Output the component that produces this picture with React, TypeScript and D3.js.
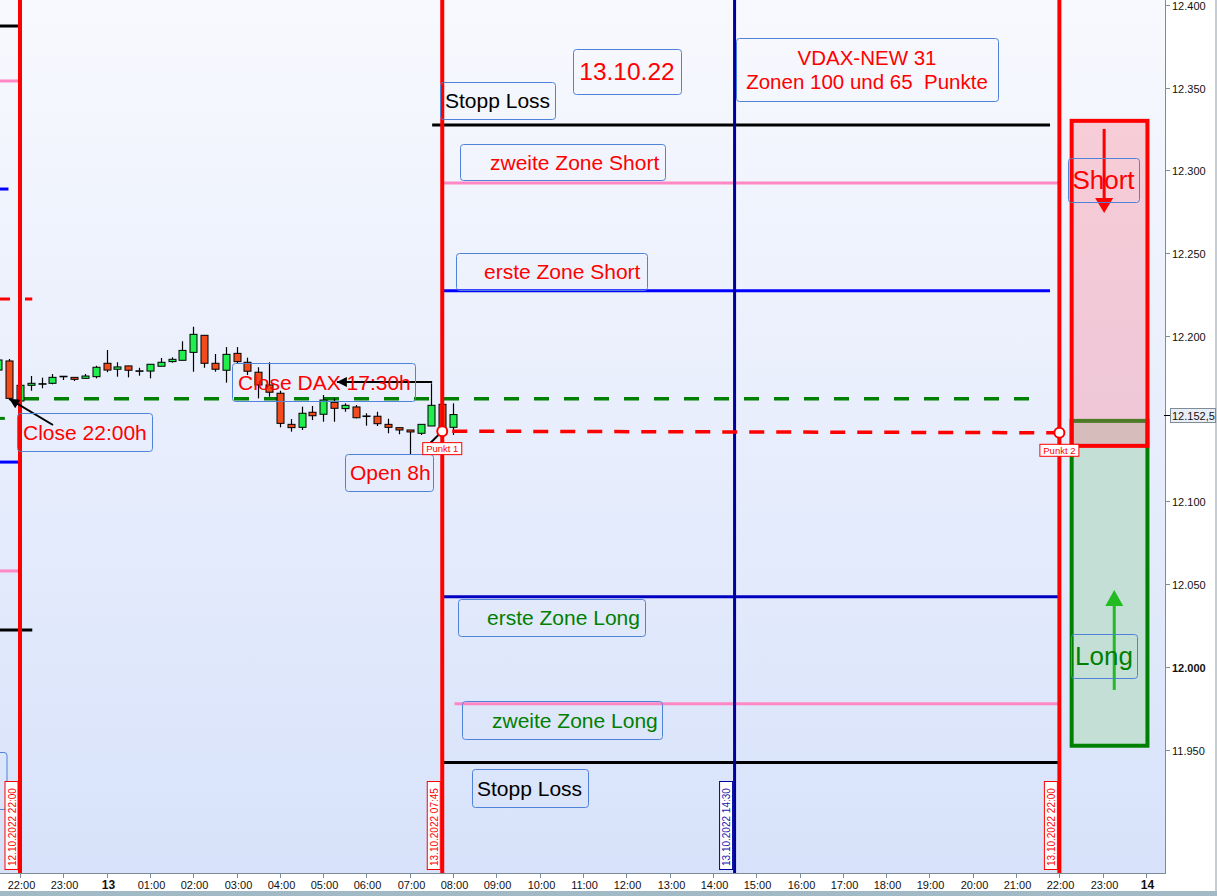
import React from "react";
import * as d3 from "d3";

// ---------- data ----------
// 15-minute DAX candles, 12.10.2022 21:30 .. 13.10.2022 08:00
const candleTimes = [
  "21:30", "21:45", "22:00", "22:15", "22:30", "22:45", "23:00", "23:15", "23:30", "23:45",
  "00:00", "00:15", "00:30", "00:45", "01:00", "01:15", "01:30", "01:45", "02:00", "02:15",
  "02:30", "02:45", "03:00", "03:15", "03:30", "03:45", "04:00", "04:15", "04:30", "04:45",
  "05:00", "05:15", "05:30", "05:45", "06:00", "06:15", "06:30", "06:45", "07:00", "07:15",
  "07:30", "07:45", "08:00",
];
const opens = [
  12179.4, 12184.9, 12160.7, 12170.2, 12171.0, 12171.4, 12175.6, 12175.0, 12174.4, 12175.4,
  12183.5, 12179.9, 12181.9, 12178.8, 12178.8, 12181.7, 12184.5, 12185.3, 12190.1, 12200.4,
  12183.5, 12179.3, 12189.5, 12184.1, 12178.1, 12170.4, 12165.4, 12146.6, 12144.8, 12153.9,
  12152.7, 12159.9, 12156.1, 12157.1, 12151.5, 12151.5, 12146.6, 12144.6, 12143.2, 12141.2,
  12145.6, 12158.7, 12144.8,
];
const highs = [
  12186.7, 12186.1, 12170.4, 12175.8, 12174.8, 12177.0, 12175.8, 12175.2, 12177.0, 12182.0,
  12191.5, 12184.1, 12182.0, 12180.8, 12183.1, 12186.7, 12187.1, 12196.8, 12205.6, 12200.6,
  12189.1, 12193.3, 12193.3, 12186.9, 12181.1, 12184.1, 12166.9, 12149.8, 12157.3, 12157.7,
  12164.3, 12162.3, 12159.3, 12158.3, 12153.3, 12154.2, 12150.0, 12144.8, 12143.2, 12146.6,
  12171.4, 12158.7, 12159.3,
];
const lows = [
  12178.2, 12162.0, 12160.7, 12166.9, 12168.4, 12170.8, 12173.4, 12172.8, 12174.3, 12174.4,
  12178.1, 12175.4, 12175.0, 12176.0, 12174.4, 12181.7, 12183.9, 12185.3, 12178.4, 12180.8,
  12178.4, 12171.8, 12183.5, 12176.4, 12162.3, 12163.3, 12144.8, 12142.2, 12143.2, 12149.2,
  12148.2, 12148.2, 12154.2, 12150.2, 12145.8, 12145.6, 12141.2, 12140.6, 12128.1, 12140.2,
  12145.6, 12142.3, 12140.2,
];
const closes = [
  12185.5, 12162.3, 12170.2, 12171.4, 12171.0, 12175.0, 12175.4, 12173.8, 12175.8, 12181.1,
  12179.4, 12181.3, 12179.3, 12178.8, 12182.9, 12184.1, 12185.9, 12191.3, 12201.0, 12183.5,
  12179.9, 12188.9, 12184.5, 12178.7, 12170.4, 12166.0, 12147.2, 12144.6, 12153.3, 12151.8,
  12161.3, 12156.3, 12158.1, 12150.6, 12151.5, 12147.0, 12144.8, 12143.2, 12142.0, 12146.6,
  12158.1, 12142.8, 12152.5,
];

const timeTickLabels = [
  "22:00", "23:00", "13", "01:00", "02:00", "03:00", "04:00", "05:00", "06:00", "07:00",
  "08:00", "09:00", "10:00", "11:00", "12:00", "13:00", "14:00", "15:00", "16:00", "17:00",
  "18:00", "19:00", "20:00", "21:00", "22:00", "23:00", "14",
];
// 12.150 sits under the last-price tag and is not labelled
const priceTicks = [11950, 12000, 12050, 12100, 12200, 12250, 12300, 12350, 12400];
const lastPrice = 12152.5;

// vertical session markers
const markerStamps = ["12.10.2022 22:00", "13.10.2022 07:45", "13.10.2022 14:30", "13.10.2022 22:00"];

// zone lines for 13.10.22
const zonePrices = [12327.5, 12292.5, 12227.3, 12042.4, 11977.8, 11942.2];
const zoneStarts = ["13.10.2022 07:31", "13.10.2022 07:45", "13.10.2022 07:45", "13.10.2022 07:45", "13.10.2022 08:02", "13.10.2022 07:45"];
const zoneEnds = ["13.10.2022 21:47", "13.10.2022 22:00", "13.10.2022 21:47", "13.10.2022 22:00", "13.10.2022 22:00", "13.10.2022 22:00"];

// zone lines of the previous day (left edge)
const prevPrices = [12387.3, 12354.1, 12288.8, 12222.3, 12150.2, 12123.8, 12058.0, 12022.3];
const prevEnds = ["12.10.2022 21:59", "12.10.2022 21:59", "12.10.2022 21:44", "12.10.2022 22:17", "12.10.2022 21:39", "12.10.2022 21:59", "12.10.2022 21:59", "12.10.2022 22:17"];

const closeLevel = 12162; // Close 22:00h
const closeLevelEnd = "13.10.2022 21:33";
const dax1730Level = 12172.2;
const daxArrowFrom = "13.10.2022 07:31";
const daxArrowTo = "13.10.2022 05:19";
const punktStamps = ["13.10.2022 07:45", "13.10.2022 22:00"];
const punktPrices = [12142.5, 12141.5];
const openWickStamp = "13.10.2022 07:15";
const openWickPrice = 12135.5;

const shortZone = [12330, 12133.6];
const longZone = [12148.7, 11952.4];
const zoneBoxFrom = "13.10.2022 22:17";
const zoneBoxTo = "14.10.2022 00:02";
const shortArrow = { stamp: "13.10.2022 23:02", from: 12325.1, to: 12274.3 };
const longArrow = { stamp: "13.10.2022 23:16", from: 11986.1, to: 12046.5 };

// ---------- helpers ----------
const parse = d3.timeParse("%d.%m.%Y %H:%M");
const base = parse("12.10.2022 22:00") as Date;
const hoursOf = (stamp: string) => ((parse(stamp) as Date).getTime() - base.getTime()) / 3600000;
const candleHours = candleTimes.map((t) => {
  const hh = +t.slice(0, 2);
  return hoursOf(`${hh >= 21 ? "12" : "13"}.10.2022 ${t}`);
});
const fmtPrice = (v: number) => {
  const s = Math.round(v).toString();
  return `${s.slice(0, s.length - 3)}.${s.slice(-3)}`;
};

const W = 1217;
const H = 896;
const PLOT_R = 1165;
const PLOT_B = 873;
const FONT = "'Liberation Sans', Arial, sans-serif";

const x = d3.scaleLinear().domain([0, 26]).range([20, 1146]);
const y = d3.scaleLinear().domain([11950, 12400]).range([749.7, 5]);

const BOX = "#4f82d9";

function TextBox(props: {
  x: number; y: number; w: number; h: number; lines: string[]; color: string;
  size: number; anchor?: "start" | "middle"; tx?: number;
}) {
  const { x: bx, y: by, w, h, lines, color, size, anchor = "start", tx = 5 } = props;
  const lh = size * 1.2;
  const startY = by + h / 2 - ((lines.length - 1) * lh) / 2 + size * 0.36;
  return (
    <g>
      <rect x={bx + 0.5} y={by + 0.5} width={w} height={h} rx={3} fill="none" stroke={BOX} strokeWidth={1} />
      {lines.map((l, i) => (
        <text
          key={i}
          x={anchor === "middle" ? bx + w / 2 : bx + tx}
          y={startY + i * lh}
          fill={color}
          fontSize={size}
          fontFamily={FONT}
          textAnchor={anchor}
          style={{ whiteSpace: "pre" }}
        >
          {l}
        </text>
      ))}
    </g>
  );
}

export default function App() {
  const markerColors = ["#ff0000", "#ff0000", "#00009c", "#ff0000"];
  const zoneColors = ["#000000", "#ff88c4", "#0000ff", "#0000c0", "#ff88c4", "#000000"];
  const prevColors = ["#000000", "#ff88c4", "#0000ff", "#ff0000", "#008000", "#0000ff", "#ff88c4", "#000000"];
  const bodyW = 7;

  const p1x = x(hoursOf(punktStamps[0]));
  const p1y = y(punktPrices[0]);
  const p2x = x(hoursOf(punktStamps[1]));
  const p2y = y(punktPrices[1]);
  const bx0 = x(hoursOf(zoneBoxFrom));
  const bx1 = x(hoursOf(zoneBoxTo));

  return (
    <svg width={W} height={H} style={{ position: "absolute", left: 0, top: 0 }} xmlns="http://www.w3.org/2000/svg">
      <defs>
        <linearGradient id="bg" x1="0" y1="0" x2="0" y2="1">
          <stop offset="0" stopColor="#f8f9fe" />
          <stop offset="1" stopColor="#d7e2fa" />
        </linearGradient>
        <marker id="ah" viewBox="0 0 10 10" refX="10" refY="5" markerWidth="12" markerHeight="10" markerUnits="userSpaceOnUse" orient="auto">
          <path d="M0,0 L10,5 L0,10 z" fill="#000" />
        </marker>
        <clipPath id="plotClip">
          <rect x={0} y={0} width={PLOT_R} height={PLOT_B} />
        </clipPath>
      </defs>

      {/* frame */}
      <rect x={0} y={0} width={W} height={H} fill="#ffffff" />
      <rect x={0} y={0} width={PLOT_R} height={PLOT_B} fill="url(#bg)" />
      <rect x={0} y={891} width={W} height={5} fill="#a2b9c6" />
      <line x1={1216} y1={0} x2={1216} y2={891} stroke="#8c9aa6" strokeWidth={1} />

      <g clipPath="url(#plotClip)">
        {/* previous-day zone marks */}
        {prevPrices.map((p, i) => (
          <line
            key={"pv" + i}
            x1={0}
            x2={x(hoursOf(prevEnds[i]))}
            y1={y(p)}
            y2={y(p)}
            stroke={prevColors[i]}
            strokeWidth={3}
            strokeDasharray={i === 3 ? "10 15" : undefined}
          />
        ))}

        {/* zone box Short / Long */}
        <rect x={bx0} y={y(longZone[0])} width={bx1 - bx0} height={y(longZone[1]) - y(longZone[0])} fill="#c4e0d6" stroke="#008000" strokeWidth={4} />
        <rect x={bx0} y={y(shortZone[0])} width={bx1 - bx0} height={y(shortZone[1]) - y(shortZone[0])} fill="rgba(255,110,130,0.3)" stroke="#ff0000" strokeWidth={4} />

        {/* zone lines */}
        {zonePrices.map((p, i) => (
          <line
            key={"z" + i}
            x1={x(hoursOf(zoneStarts[i]))}
            x2={x(hoursOf(zoneEnds[i]))}
            y1={y(p)}
            y2={y(p)}
            stroke={zoneColors[i]}
            strokeWidth={3}
          />
        ))}

        {/* close 22:00 level */}
        <line x1={x(0)} x2={x(hoursOf(closeLevelEnd))} y1={y(closeLevel)} y2={y(closeLevel)} stroke="#008000" strokeWidth={3.5} strokeDasharray="15 15" strokeDashoffset={-4} />

        {/* candles */}
        {candleHours.map((h, i) => {
          const cx = Math.round(x(h)) + 0.5;
          const o = opens[i];
          const c = closes[i];
          const yTop = y(Math.max(o, c));
          const yBot = y(Math.min(o, c));
          const flat = yBot - yTop < 1.5;
          return (
            <g key={"c" + i}>
              <line x1={cx} x2={cx} y1={y(highs[i])} y2={y(lows[i])} stroke="#000" strokeWidth={1.2} />
              {flat ? (
                <line x1={cx - bodyW / 2 - 0.5} x2={cx + bodyW / 2 + 0.5} y1={(yTop + yBot) / 2} y2={(yTop + yBot) / 2} stroke="#000" strokeWidth={1.6} />
              ) : (
                <rect x={cx - bodyW / 2} y={yTop} width={bodyW} height={yBot - yTop} fill={c >= o ? "#20ee4c" : "#f24c1c"} stroke="#000" strokeWidth={1} />
              )}
            </g>
          );
        })}

        {/* vertical session markers */}
        {markerStamps.map((s, i) => (
          <line key={"vm" + i} x1={x(hoursOf(s))} x2={x(hoursOf(s))} y1={0} y2={PLOT_B} stroke={markerColors[i]} strokeWidth={i === 2 ? 3 : 4} />
        ))}

        {/* trend between Punkt 1 and Punkt 2 */}
        <line x1={p1x} y1={p1y} x2={p2x} y2={p2y} stroke="#ff0000" strokeWidth={3.5} strokeDasharray="15 12" strokeDashoffset={-10} />

        {/* arrows Short / Long */}
        <line x1={x(hoursOf(shortArrow.stamp))} x2={x(hoursOf(shortArrow.stamp))} y1={y(shortArrow.from)} y2={y(shortArrow.to) - 14} stroke="#ff0000" strokeWidth={3} />
        <path
          d={`M${x(hoursOf(shortArrow.stamp)) - 9},${y(shortArrow.to) - 15} L${x(hoursOf(shortArrow.stamp)) + 9},${y(shortArrow.to) - 15} L${x(hoursOf(shortArrow.stamp))},${y(shortArrow.to)} z`}
          fill="#ff0000"
        />
        <line x1={x(hoursOf(longArrow.stamp))} x2={x(hoursOf(longArrow.stamp))} y1={y(longArrow.from)} y2={y(longArrow.to) + 14} stroke="#22bb22" strokeWidth={3} />
        <path
          d={`M${x(hoursOf(longArrow.stamp)) - 9},${y(longArrow.to) + 16} L${x(hoursOf(longArrow.stamp)) + 9},${y(longArrow.to) + 16} L${x(hoursOf(longArrow.stamp))},${y(longArrow.to)} z`}
          fill="#22bb22"
        />

        {/* pointer lines */}
        <line x1={53} y1={425} x2={x(candleHours[1])} y2={y(closeLevel)} stroke="#000" strokeWidth={2} markerEnd="url(#ah)" />
        <line x1={x(hoursOf(daxArrowFrom))} y1={y(dax1730Level)} x2={x(hoursOf(daxArrowTo))} y2={y(dax1730Level)} stroke="#000" strokeWidth={2} markerEnd="url(#ah)" />
        <line x1={x(hoursOf(openWickStamp)) + 10} y1={y(openWickPrice)} x2={p1x} y2={p1y} stroke="#000" strokeWidth={2} />

        {/* annotation boxes */}
        <TextBox x={573} y={49} w={108} h={45} lines={["13.10.22"]} color="#ff0000" size={24.5} anchor="middle" />
        <TextBox x={736} y={38} w={262} h={63} lines={["VDAX-NEW 31", "Zonen 100 und 65  Punkte"]} color="#ff0000" size={20.5} anchor="middle" />
        <TextBox x={440} y={82} w={115} h={37} lines={["Stopp Loss"]} color="#000000" size={21} tx={5} />
        <TextBox x={460} y={144} w={205} h={36} lines={["zweite Zone Short"]} color="#ff0000" size={21} tx={30} />
        <TextBox x={456} y={253} w={191} h={37} lines={["erste Zone Short"]} color="#ff0000" size={21} tx={28} />
        <TextBox x={458} y={599} w={187} h={37} lines={["erste Zone Long"]} color="#008000" size={21} tx={29} />
        <TextBox x={462} y={701} w={200} h={38} lines={["zweite Zone Long"]} color="#008000" size={21} tx={30} />
        <TextBox x={472} y={769} w={116} h={38} lines={["Stopp Loss"]} color="#000000" size={21} tx={5} />
        <TextBox x={17} y={413} w={135} h={38} lines={["Close 22:00h"]} color="#ff0000" size={21} tx={6} />
        <TextBox x={232} y={363} w={183} h={38} lines={["Close DAX 17:30h"]} color="#ff0000" size={21} tx={6} />
        <TextBox x={345} y={454} w={88} h={37} lines={["Open 8h"]} color="#ff0000" size={21} tx={5} />
        <TextBox x={1068} y={158} w={71} h={44} lines={["Short"]} color="#ff0000" size={26} anchor="middle" />
        <TextBox x={1071} y={634} w={66} h={44} lines={["Long"]} color="#008000" size={26} anchor="middle" />
        <rect x={-40} y={752.5} width={47} height={57} rx={3} fill="none" stroke={BOX} strokeWidth={1} />

        {/* Punkt markers */}
        {[[p1x, p1y, "Punkt 1"], [p2x, p2y, "Punkt 2"]].map(([px, py, lbl], i) => (
          <g key={"pk" + i}>
            <circle cx={px as number} cy={py as number} r={5} fill="#ffffff" stroke="#ff0000" strokeWidth={2} />
            <rect x={(px as number) - 19.5} y={(py as number) + 11.5} width={39} height={12} fill="#ffffff" stroke="#ff0000" strokeWidth={1} />
            <text x={px as number} y={(py as number) + 21} textAnchor="middle" fontSize={9.5} fontFamily={FONT} fill="#ff0000">
              {lbl as string}
            </text>
          </g>
        ))}

        {/* session stamps */}
        {markerStamps.map((s, i) => {
          const lx = x(hoursOf(s));
          return (
            <g key={"st" + i} transform={`translate(${lx - 8.5},870) rotate(-90)`}>
              <rect x={0.5} y={-6.5} width={88} height={13} fill="#ffffff" stroke={markerColors[i]} strokeWidth={1} />
              <text x={4} y={4} fontSize={10} fontFamily={FONT} fill={i === 2 ? "#1a1ab0" : "#ff0000"}>
                {s}
              </text>
            </g>
          );
        })}
      </g>

      {/* axes */}
      <line x1={0} x2={PLOT_R} y1={PLOT_B + 0.5} y2={PLOT_B + 0.5} stroke="#7d8c99" />
      <line x1={PLOT_R + 0.5} x2={PLOT_R + 0.5} y1={0} y2={PLOT_B + 1} stroke="#7d8c99" />
      {timeTickLabels.map((t, i) => {
        const tx = Math.round(x(i)) + 0.5;
        const bold = t.length <= 2;
        return (
          <g key={"xt" + i}>
            <line x1={tx} x2={tx} y1={PLOT_B + 1} y2={PLOT_B + 5} stroke="#7d8c99" />
            <text x={tx + 1} y={PLOT_B + 16} textAnchor="middle" fontSize={bold ? 12 : 11} fontWeight={bold ? "bold" : "normal"} fontFamily={FONT} fill="#111">
              {t}
            </text>
          </g>
        );
      })}
      {priceTicks.map((p) => {
        const ty = Math.round(y(p)) + 0.5;
        const bold = p === 12000;
        return (
          <g key={"yt" + p}>
            <line x1={PLOT_R + 1} x2={PLOT_R + 5} y1={ty} y2={ty} stroke="#7d8c99" />
            <text x={PLOT_R + 7} y={ty + 4} fontSize={11} fontWeight={bold ? "bold" : "normal"} fontFamily={FONT} fill="#111">
              {fmtPrice(p)}
            </text>
          </g>
        );
      })}
      <g>
        <line x1={PLOT_R - 1} x2={PLOT_R + 5} y1={Math.round(y(lastPrice)) + 0.5} y2={Math.round(y(lastPrice)) + 0.5} stroke="#000" />
        <rect x={PLOT_R + 5.5} y={Math.round(y(lastPrice)) - 6.5} width={45} height={14} fill="#e9eef6" stroke="#7d8c99" />
        <text x={PLOT_R + 7} y={Math.round(y(lastPrice)) + 4.5} fontSize={11} fontFamily={FONT} fill="#111">
          {"12.152,5"}
        </text>
      </g>
    </svg>
  );
}
